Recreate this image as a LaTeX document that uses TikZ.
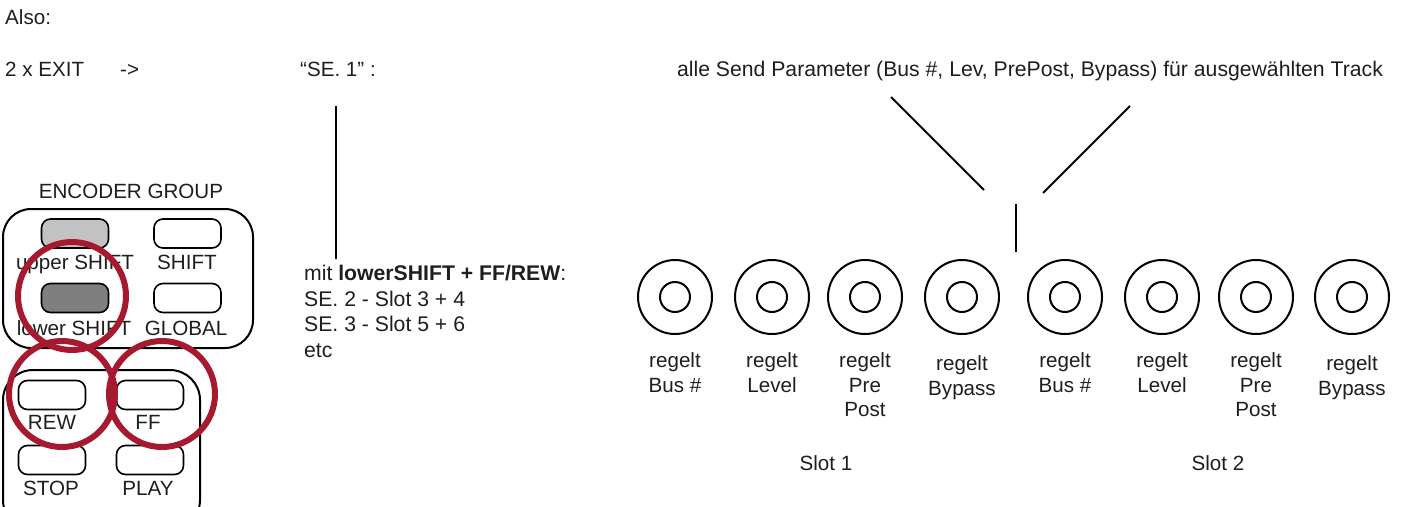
\documentclass[tikz,border=0pt]{standalone}
\usepackage{fontspec}
\setmainfont{Liberation Sans}
\usetikzlibrary{positioning,calc}
\definecolor{MarkRed}{HTML}{A6192E}
\definecolor{ShiftLight}{HTML}{C2C2C2}
\definecolor{ShiftDark}{HTML}{7F7F80}
\definecolor{InkGray}{HTML}{1E1E1E}
\tikzset{
    txt/.style = {inner sep=0pt, text=InkGray,
        font=\fontsize{20.6}{25}\selectfont},
    bigtxt/.style = {txt, font=\fontsize{21.2}{25.7}\selectfont},
    knoblabel/.style = {txt, anchor=north, align=center,
        font=\fontsize{20.6}{24.5}\selectfont},
    panel/.style = {draw, line width=2pt, rounded corners=28pt},
    button/.style = {draw, rectangle, rounded corners=9pt,
        line width=1.6pt,
        minimum width=67pt,
        minimum height=29pt, inner sep=0pt},
    knob/.style = {draw, circle, line width=2pt, minimum size=74pt, inner sep=0pt},
    knobcap/.style = {draw, circle, line width=2pt, minimum size=30pt, inner sep=0pt},
    hilite/.style = {draw=MarkRed, line width=6pt},
    wire/.style = {draw, line width=2pt}
}

\begin{document}
\begin{tikzpicture}[x=1pt,y=-1pt]
    \useasboundingbox (0,0) rectangle (1407,506);
    % header line
    \node[txt, anchor=base west] (also) at (5,24) {Also:};
    \node[txt, anchor=base west] (exit) at (5,76) {2 x EXIT};
    \node[txt, anchor=base west] (arrow) at (120,76) {->};
    \node[txt, anchor=base west] (se1) at (300,76) {“SE. 1” :};
    \node[bigtxt, anchor=base] (alle) at (1030,76) {alle Send Parameter (Bus \#, Lev, PrePost, Bypass) für ausgewählten Track};
    % pointer lines
    \coordinate (se1top) at (336,106);
    \coordinate (se1bot) at (336,259);
    \draw[wire] (se1top) -- (se1bot);
    \coordinate (ylefttop) at (891,97);
    \coordinate (yleftbot) at (984,190);
    \coordinate (yrighttop) at (1130,106);
    \coordinate (yrightbot) at (1043,193);
    \coordinate (ystemtop) at (1016,204);
    \coordinate (ystembot) at (1016,252);
    \draw[wire] (ylefttop) -- (yleftbot);
    \draw[wire] (yrighttop) -- (yrightbot);
    \draw[wire] (ystemtop) -- (ystembot);
    \node[bigtxt, anchor=north west, align=left] (mit) at (304,265)
        {mit \textbf{lowerSHIFT + FF/REW}:\\SE. 2 - Slot 3 + 4\\SE. 3 - Slot 5 + 6\\etc};
    % encoder group panel
    \node[txt, anchor=base] (enctitle) at (131,198) {ENCODER GROUP};
    \draw[panel] (3,209) rectangle (253,348);
    \node[button, fill=ShiftLight] (upper) at (75,233.5) {};
    \node[button] (shift) at (187.5,233.5) {};
    \node[button, fill=ShiftDark] (lower) at (75,298) {};
    \node[button] (global) at (187.5,298) {};
    \node[txt, anchor=base] (upperlbl) at (75,269) {upper SHIFT};
    \node[txt, anchor=base] (shiftlbl) at (187,269) {SHIFT};
    \node[txt, anchor=base] (lowerlbl) at (74,335) {lower SHIFT};
    \node[txt, anchor=base] (globallbl) at (186,335) {GLOBAL};
    % transport panel
    \draw[panel, rounded corners=30pt] (3,370) rectangle (200,530);
    \node[button] (rew) at (52,395) {};
    \node[button] (ff) at (150,395) {};
    \node[button] (stop) at (52,460) {};
    \node[button] (play) at (150,460) {};
    \node[txt, anchor=base] (rewlbl) at (52,429) {REW};
    \node[txt, anchor=base] (fflbl) at (148,429) {FF};
    \node[txt, anchor=base] (stoplbl) at (51,495) {STOP};
    \node[txt, anchor=base] (playlbl) at (148,495) {PLAY};
    % red marks
    \draw[hilite] (72,296) circle (54);
    \draw[hilite] (62,394) circle (53);
    \draw[hilite] (162,394) circle (53);
    % knobs
    \foreach \kx/\kname/\ktext/\kdy in {675/k1/Bus \#/0, 772/k2/Level/0, 865/k3/Pre\\Post/0, 962/k4/Bypass/3,
                                        1065/k5/Bus \#/0, 1162/k6/Level/0, 1256/k7/Pre\\Post/0, 1352/k8/Bypass/3} {
        \node[knob] (\kname) at (\kx,297) {};
        \node[knobcap] (\kname cap) at (\kname) {};
        \node[knoblabel] (\kname lbl) at (\kx,352.5+\kdy) {regelt\\\ktext};
    }
    \node[txt, anchor=base] (slot1) at (826,470) {Slot 1};
    \node[txt, anchor=base] (slot2) at (1218,470) {Slot 2};
\end{tikzpicture}
\end{document}
